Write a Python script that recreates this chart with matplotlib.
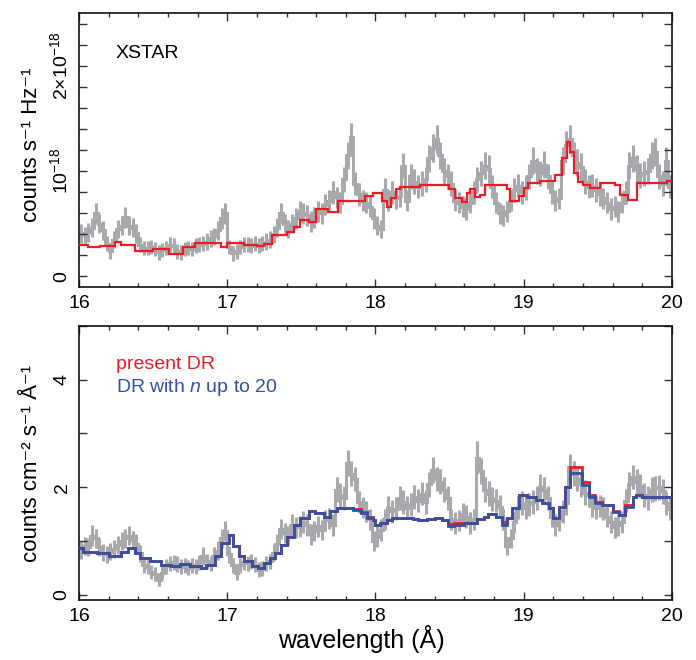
import numpy as np
import matplotlib
matplotlib.use("Agg")
import matplotlib.pyplot as plt
from matplotlib.ticker import MultipleLocator, FixedLocator, FixedFormatter

plt.rcParams['font.family'] = ['Liberation Sans', 'DejaVu Sans']
plt.rcParams['mathtext.fontset'] = 'custom'
plt.rcParams['mathtext.rm'] = 'Liberation Sans'
plt.rcParams['mathtext.it'] = 'Liberation Sans:italic'
plt.rcParams['mathtext.bf'] = 'Liberation Sans:bold'

# ---------------- data ----------------
wl_start, wl_end = 16.0, 20.0

top_counts = [
    0.41,0.39,0.42,0.46,0.60,0.50,0.44,0.31,0.24,0.35,0.45,0.48,0.56,0.48,0.46,0.41,0.30,0.27,0.27,0.28,
    0.26,0.23,0.25,0.27,0.30,0.29,0.24,0.23,0.26,0.27,0.26,0.29,0.30,0.31,0.33,0.36,0.38,0.44,0.55,0.60,
    0.28,0.22,0.24,0.28,0.30,0.30,0.29,0.31,0.29,0.31,0.33,0.35,0.40,0.46,0.60,0.50,0.45,0.50,0.55,0.62,
    0.60,0.58,0.52,0.56,0.62,0.60,0.68,0.72,0.80,0.75,0.70,0.92,1.15,1.32,0.88,0.78,0.72,0.70,0.66,0.55,
    0.48,0.45,0.82,0.72,0.80,0.74,0.76,1.05,0.72,0.95,0.90,0.85,0.88,0.92,1.12,1.22,1.30,1.15,1.00,0.95,
    0.88,0.72,0.70,0.66,0.64,0.70,0.80,0.92,0.98,1.05,1.02,0.85,0.70,0.60,0.58,0.62,0.72,0.82,0.86,0.80,
    0.84,0.95,1.10,1.00,0.98,1.06,0.95,0.80,0.72,0.74,1.10,1.25,1.30,1.15,1.08,1.04,0.90,0.85,0.86,0.82,
    0.78,0.74,0.70,0.64,0.66,0.62,0.70,0.80,1.05,1.12,1.02,0.96,0.98,1.00,1.15,1.18,0.95,0.88,1.10,0.85]
top_err = [
    0.09,0.08,0.09,0.09,0.10,0.09,0.09,0.07,0.07,0.08,0.09,0.09,0.10,0.09,0.09,0.09,0.07,0.07,0.07,0.07,
    0.07,0.07,0.07,0.07,0.07,0.07,0.07,0.07,0.07,0.07,0.07,0.07,0.07,0.07,0.08,0.08,0.08,0.09,0.10,0.10,
    0.07,0.07,0.07,0.07,0.07,0.07,0.07,0.07,0.07,0.07,0.08,0.08,0.08,0.09,0.10,0.09,0.09,0.09,0.10,0.10,
    0.10,0.10,0.10,0.10,0.10,0.10,0.10,0.10,0.11,0.10,0.10,0.12,0.13,0.14,0.11,0.11,0.10,0.10,0.10,0.10,
    0.09,0.09,0.11,0.10,0.11,0.10,0.10,0.12,0.10,0.12,0.12,0.11,0.12,0.12,0.13,0.13,0.14,0.13,0.12,0.12,
    0.12,0.10,0.10,0.10,0.10,0.10,0.11,0.12,0.12,0.13,0.13,0.11,0.10,0.10,0.10,0.10,0.10,0.11,0.11,0.11,
    0.11,0.12,0.13,0.12,0.12,0.13,0.12,0.11,0.10,0.10,0.13,0.13,0.14,0.13,0.13,0.13,0.12,0.11,0.11,0.11,
    0.11,0.10,0.10,0.10,0.10,0.10,0.10,0.11,0.13,0.13,0.13,0.12,0.12,0.12,0.13,0.13,0.12,0.12,0.13,0.11]

bot_flux = [
    0.83,0.90,0.88,1.10,1.05,0.88,0.78,0.75,0.80,0.85,0.92,1.00,1.05,1.10,1.02,0.95,0.77,0.55,0.52,0.42,
    0.38,0.28,0.40,0.53,0.58,0.60,0.57,0.52,0.55,0.50,0.55,0.52,0.60,0.72,0.62,0.58,0.72,0.82,1.05,1.18,
    0.75,0.55,0.40,0.55,0.60,0.58,0.62,0.56,0.46,0.48,0.58,0.62,0.78,0.95,1.22,1.15,1.10,1.30,1.25,1.27,
    1.35,1.30,1.12,1.18,1.27,1.20,1.38,1.42,1.30,1.95,1.85,1.80,2.45,2.25,2.15,1.72,1.62,1.55,1.40,1.00,
    1.08,1.20,1.40,1.62,1.55,1.60,1.80,1.72,1.62,1.68,1.82,1.75,1.88,1.72,2.05,2.32,2.15,2.10,1.95,1.80,
    1.40,1.33,1.38,1.50,1.45,1.33,1.40,2.55,2.30,1.95,1.88,1.78,1.75,1.64,1.40,0.90,1.05,1.35,1.62,1.70,
    1.62,1.68,1.72,1.80,2.01,1.95,1.80,1.45,1.30,1.38,1.55,1.70,2.38,2.25,2.15,2.05,1.90,1.85,1.65,1.62,
    1.65,1.60,1.45,1.35,1.25,1.30,1.35,1.75,2.05,2.19,2.10,2.02,1.85,1.80,1.95,1.98,2.00,1.92,1.70,1.60]
bot_err = [
    0.17,0.17,0.17,0.19,0.18,0.17,0.16,0.16,0.16,0.17,0.17,0.17,0.18,0.18,0.17,0.17,0.16,0.14,0.14,0.13,
    0.13,0.12,0.13,0.14,0.14,0.14,0.14,0.14,0.14,0.14,0.14,0.14,0.14,0.16,0.14,0.14,0.16,0.17,0.18,0.19,
    0.16,0.14,0.13,0.14,0.14,0.14,0.14,0.14,0.14,0.14,0.14,0.14,0.16,0.17,0.19,0.19,0.18,0.20,0.19,0.19,
    0.20,0.20,0.19,0.19,0.20,0.19,0.20,0.20,0.20,0.23,0.22,0.22,0.24,0.23,0.23,0.21,0.20,0.20,0.20,0.18,
    0.19,0.20,0.20,0.21,0.21,0.21,0.22,0.22,0.21,0.21,0.22,0.22,0.22,0.22,0.23,0.24,0.23,0.23,0.23,0.22,
    0.20,0.20,0.20,0.21,0.21,0.20,0.20,0.30,0.24,0.23,0.23,0.22,0.22,0.21,0.20,0.17,0.18,0.20,0.21,0.22,
    0.21,0.21,0.22,0.22,0.23,0.23,0.22,0.20,0.20,0.20,0.21,0.22,0.24,0.23,0.23,0.23,0.23,0.22,0.21,0.21,
    0.21,0.21,0.20,0.20,0.19,0.20,0.20,0.22,0.23,0.23,0.23,0.23,0.22,0.22,0.23,0.23,0.23,0.23,0.21,0.21]

top_model_edges = [16.00,16.06,16.14,16.24,16.28,16.38,16.50,16.61,16.70,16.78,16.96,17.00,17.11,17.20,17.25,
    17.30,17.40,17.45,17.49,17.55,17.60,17.68,17.75,17.93,17.98,18.045,18.075,18.105,18.135,18.168,18.303,
    18.494,18.539,18.584,18.617,18.640,18.673,18.707,18.741,18.887,18.909,18.965,19.000,19.032,19.111,19.212,
    19.257,19.290,19.313,19.340,19.369,19.403,19.448,19.515,19.616,19.650,19.706,19.762,19.964,20.00]
top_model = [0.30,0.28,0.29,0.33,0.30,0.24,0.26,0.21,0.28,0.315,0.28,0.315,0.30,0.29,0.305,0.39,0.42,0.47,
    0.54,0.52,0.64,0.61,0.72,0.76,0.79,0.72,0.66,0.74,0.83,0.85,0.87,0.83,0.74,0.71,0.79,0.83,0.75,0.77,0.87,
    0.83,0.72,0.76,0.84,0.89,0.91,0.96,1.12,1.28,1.18,0.98,0.90,0.87,0.84,0.89,0.87,0.77,0.73,0.89,0.91]

bot_model_edges = [16.00,16.03,16.12,16.20,16.28,16.33,16.38,16.41,16.48,16.55,16.62,16.68,16.75,16.82,16.86,
    16.92,16.96,17.01,17.04,17.08,17.11,17.17,17.21,17.25,17.29,17.32,17.36,17.40,17.45,17.49,17.55,17.59,
    17.65,17.69,17.74,17.85,17.90,17.94,17.98,18.00,18.03,18.08,18.11,18.25,18.29,18.35,18.40,18.45,18.49,
    18.53,18.60,18.685,18.73,18.76,18.81,18.85,18.89,18.92,18.97,19.02,19.08,19.12,19.17,19.20,19.235,19.28,
    19.31,19.39,19.44,19.48,19.53,19.605,19.64,19.684,19.74,19.76,19.80,20.00]
bot_present_dr = [0.87,0.80,0.77,0.71,0.80,0.87,0.77,0.68,0.62,0.56,0.53,0.57,0.53,0.49,0.56,0.71,0.96,1.11,
    0.90,0.71,0.62,0.53,0.49,0.59,0.68,0.77,0.93,1.08,1.30,1.42,1.55,1.51,1.45,1.55,1.62,1.60,1.53,1.44,1.38,
    1.30,1.33,1.39,1.43,1.40,1.38,1.40,1.42,1.38,1.31,1.33,1.33,1.40,1.44,1.50,1.45,1.36,1.43,1.61,1.85,1.82,
    1.77,1.71,1.61,1.42,1.64,2.01,2.38,2.09,1.86,1.73,1.67,1.56,1.48,1.66,1.81,1.85,1.82]
bot_dr_n20 = [0.87,0.80,0.77,0.71,0.80,0.87,0.77,0.68,0.62,0.56,0.53,0.57,0.53,0.49,0.56,0.71,0.96,1.11,
    0.90,0.71,0.62,0.53,0.49,0.59,0.68,0.77,0.93,1.08,1.30,1.42,1.55,1.51,1.45,1.55,1.61,1.58,1.51,1.42,1.38,
    1.30,1.33,1.39,1.43,1.40,1.38,1.40,1.42,1.38,1.27,1.30,1.33,1.40,1.44,1.50,1.45,1.30,1.43,1.61,1.85,1.82,
    1.77,1.71,1.61,1.42,1.64,2.01,2.27,2.04,1.82,1.71,1.67,1.53,1.48,1.64,1.81,1.85,1.82]

x_ticks = [16, 17, 18, 19, 20]
top_yticks = [0, 1, 2]
top_yticklabels = ['0', r'$10^{-18}$', r'$2{\times}10^{-18}$']
bot_yticks = [0, 2, 4]
bot_yticklabels = ['0', '2', '4']

# ---------------- style ----------------
GRAY = '#a7a9ac'
RED = '#ed1c24'
BLUE = '#3550a2'

fig = plt.figure(figsize=(6.96, 6.60), dpi=100)
ax1 = fig.add_axes([0.1135, 0.5652, 0.852, 0.4151])
ax2 = fig.add_axes([0.1135, 0.0909, 0.852, 0.4152])

edges = np.linspace(wl_start, wl_end, len(top_counts) + 1)
centers = 0.5 * (edges[:-1] + edges[1:])


def style(ax, yticks, ylabels, yminor, ylim):
    ax.set_xlim(wl_start, wl_end)
    ax.set_ylim(*ylim)
    ax.xaxis.set_major_locator(FixedLocator(x_ticks))
    ax.xaxis.set_minor_locator(MultipleLocator(0.2))
    ax.set_xticklabels([str(t) for t in x_ticks])
    ax.yaxis.set_major_locator(FixedLocator(yticks))
    ax.yaxis.set_major_formatter(FixedFormatter(ylabels))
    ax.yaxis.set_minor_locator(MultipleLocator(yminor))
    ax.tick_params(axis='both', which='both', direction='in', top=True, right=True,
                   color='#333333', width=1.0)
    ax.tick_params(axis='x', which='major', length=6, labelsize=14, pad=6)
    ax.tick_params(axis='x', which='minor', length=3)
    ax.tick_params(axis='y', which='both', length=5.5, labelsize=14, pad=6)
    for lab in ax.get_yticklabels():
        lab.set_rotation(90)
        lab.set_va('center')
    for s in ax.spines.values():
        s.set_linewidth(1.2)
        s.set_color('#111111')


# top panel
ax1.stairs(top_counts, edges, baseline=None, color=GRAY, lw=2.2, zorder=1)
ax1.errorbar(centers, top_counts, yerr=top_err, fmt='none', ecolor=GRAY, elinewidth=2.2, capsize=0, zorder=1)
ax1.stairs(top_model, top_model_edges, baseline=None, color=RED, lw=1.6, zorder=3)
style(ax1, top_yticks, top_yticklabels, 0.2, (-0.1, 2.5))
ax1.set_ylabel('counts s⁻¹ Hz⁻¹', fontsize=16)
ax1.yaxis.set_label_coords(-0.063, 0.52)
ax1.text(0.062, 0.854, 'XSTAR', transform=ax1.transAxes, fontsize=14, va='center', ha='left')

# bottom panel
ax2.stairs(bot_flux, edges, baseline=None, color=GRAY, lw=2.2, zorder=1)
ax2.errorbar(centers, bot_flux, yerr=bot_err, fmt='none', ecolor=GRAY, elinewidth=2.2, capsize=0, zorder=1)
ax2.stairs(bot_present_dr, bot_model_edges, baseline=None, color=RED, lw=2.0, zorder=3)
ax2.stairs(bot_dr_n20, bot_model_edges, baseline=None, color=BLUE, lw=2.0, zorder=4)
style(ax2, bot_yticks, bot_yticklabels, 1.0, (-0.1, 5.0))
ax2.set_ylabel('counts cm⁻² s⁻¹ Å⁻¹', fontsize=16)
ax2.yaxis.set_label_coords(-0.063, 0.5)
ax2.set_xlabel('wavelength (Å)', fontsize=18)
ax2.xaxis.set_label_coords(0.476, -0.092)
ax2.text(0.062, 0.858, 'present DR', transform=ax2.transAxes, fontsize=14, color=RED, va='center', ha='left')
ax2.text(0.062, 0.774, r'DR with $n$ up to 20', transform=ax2.transAxes, fontsize=14, color=BLUE,
         va='center', ha='left')

fig.savefig('out.png', dpi=100)
